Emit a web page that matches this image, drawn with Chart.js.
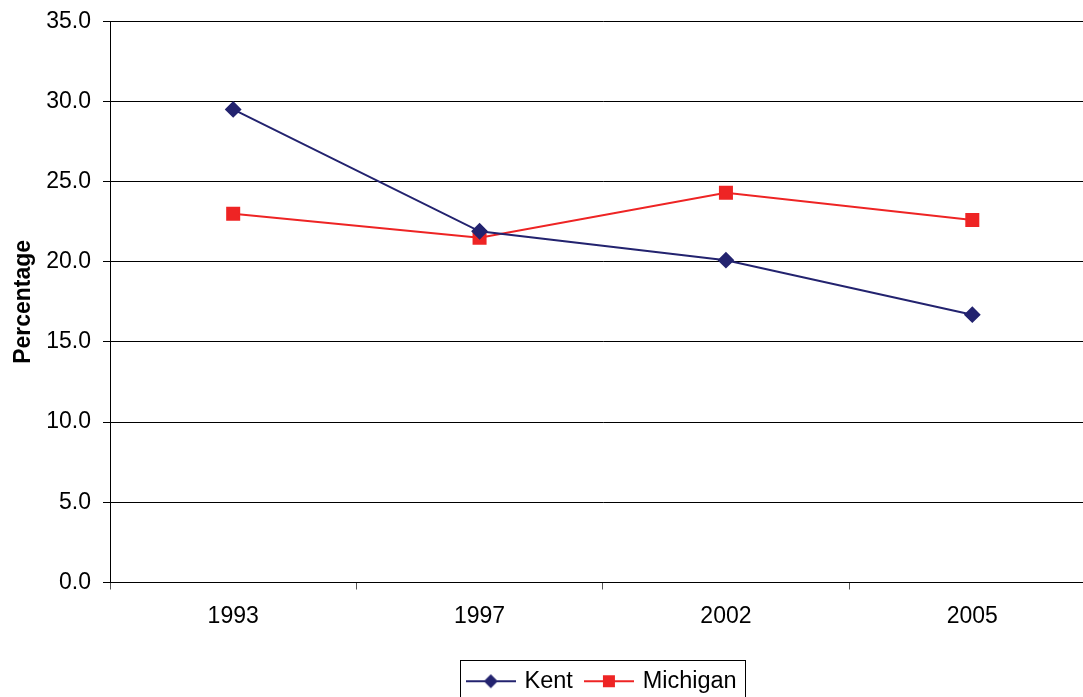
<!DOCTYPE html>
<html>
<head>
<meta charset="utf-8">
<script src="https://cdn.jsdelivr.net/npm/chart.js@4/dist/chart.umd.min.js"></script>
<style>
    html, body { margin: 0; padding: 0; background: #fff; overflow: hidden; }
    canvas { display: block; max-width: none !important; width: 1106px !important; height: 697px !important; }
</style>
</head>
<body>
<canvas id="chart" width="1106" height="697"></canvas>
<script>
const years = ['1993', '1997', '2002', '2005'];
const kentValues = [29.5, 21.9, 20.1, 16.7];
const michiganValues = [23.0, 21.5, 24.3, 22.6];
const yTicks = [0, 5, 10, 15, 20, 25, 30, 35];

const kentColor = '#23236f';
const michiganColor = '#ee2424';
const fontFamily = 'Arial, "Liberation Sans", sans-serif';

// legend swatch: short line with the marker in the middle
function makeSwatch(color, style) {
    const c = document.createElement('canvas');
    c.width = 50;
    c.height = 16;
    const g = c.getContext('2d');
    g.strokeStyle = color;
    g.lineWidth = 2;
    g.beginPath();
    g.moveTo(0, 8);
    g.lineTo(50, 8);
    g.stroke();
    g.fillStyle = color;
    if (style === 'diamond') {
        g.beginPath();
        g.moveTo(25, 1);
        g.lineTo(32, 8);
        g.lineTo(25, 15);
        g.lineTo(18, 8);
        g.closePath();
        g.fill();
    } else {
        g.fillRect(19, 2, 12, 12);
    }
    return c;
}

const swatches = [makeSwatch(kentColor, 'diamond'), makeSwatch(michiganColor, 'square')];

const legendPlacement = {
    id: 'legendPlacement',
    // centre the legend under the plot area instead of the whole canvas
    afterLayout(chart) {
        chart.legend.left = chart.chartArea.left;
        chart.legend.right = chart.chartArea.right;
    },
    afterDraw(chart) {
        const boxes = chart.legend.legendHitBoxes;
        if (!boxes || !boxes.length) return;
        const first = boxes[0];
        const last = boxes[boxes.length - 1];
        const cy = first.top + first.height / 2;
        const x0 = Math.round(first.left - 9) + 0.5;
        const x1 = Math.round(last.left + last.width + 8) + 0.5;
        const y0 = Math.round(cy - 21) + 0.5;
        const ctx = chart.ctx;
        ctx.save();
        ctx.strokeStyle = '#000';
        ctx.lineWidth = 1;
        ctx.strokeRect(x0, y0, x1 - x0, 60);
        ctx.restore();
    }
};

new Chart(document.getElementById('chart'), {
    type: 'line',
    data: {
        labels: years,
        datasets: [
            {
                label: 'Kent',
                data: kentValues,
                borderColor: kentColor,
                backgroundColor: kentColor,
                borderWidth: 2,
                pointStyle: 'rectRot',
                pointRadius: 7,
                tension: 0,
                fill: false
            },
            {
                label: 'Michigan',
                data: michiganValues,
                borderColor: michiganColor,
                backgroundColor: michiganColor,
                borderWidth: 2,
                pointStyle: 'rect',
                pointRadius: 8.5,
                tension: 0,
                fill: false
            }
        ]
    },
    options: {
        responsive: false,
        animation: false,
        layout: {
            padding: { top: 5, left: 8, right: 0, bottom: -6 }
        },
        plugins: {
            tooltip: { enabled: false },
            legend: {
                position: 'bottom',
                labels: {
                    color: '#000',
                    font: { family: fontFamily, size: 23.5 },
                    padding: 14,
                    boxWidth: 44,
                    boxHeight: 16,
                    usePointStyle: true,
                    pointStyleWidth: 44,
                    generateLabels: (chart) => chart.data.datasets.map((ds, i) => ({
                        text: ds.label,
                        pointStyle: swatches[i],
                        datasetIndex: i,
                        fillStyle: ds.borderColor,
                        strokeStyle: ds.borderColor,
                        lineWidth: 0,
                        hidden: false
                    }))
                }
            }
        },
        scales: {
            x: {
                offset: true,
                border: { color: '#000', width: 1 },
                grid: {
                    offset: true,
                    drawOnChartArea: false,
                    drawTicks: true,
                    tickLength: 7,
                    color: '#555'
                },
                ticks: {
                    color: '#000',
                    padding: 13,
                    font: { family: fontFamily, size: 23 }
                },
                afterFit: (axis) => { axis.height = 73; }
            },
            y: {
                min: 0,
                max: 35,
                afterBuildTicks: (axis) => {
                    axis.ticks = yTicks.map(v => ({ value: v }));
                },
                border: { color: '#000', width: 1 },
                grid: {
                    color: '#000',
                    lineWidth: 1,
                    drawTicks: true,
                    tickLength: 7
                },
                ticks: {
                    color: '#000',
                    padding: 12,
                    font: { family: fontFamily, size: 23, lineHeight: 0.8 },
                    callback: (v) => Number(v).toFixed(1)
                },
                title: {
                    display: true,
                    text: 'Percentage',
                    color: '#000',
                    padding: { top: 2, bottom: 10 },
                    font: { family: fontFamily, size: 23, weight: 'bold' }
                },
                afterFit: (axis) => { axis.width = 102; }
            }
        }
    },
    plugins: [legendPlacement]
});
</script>
</body>
</html>
